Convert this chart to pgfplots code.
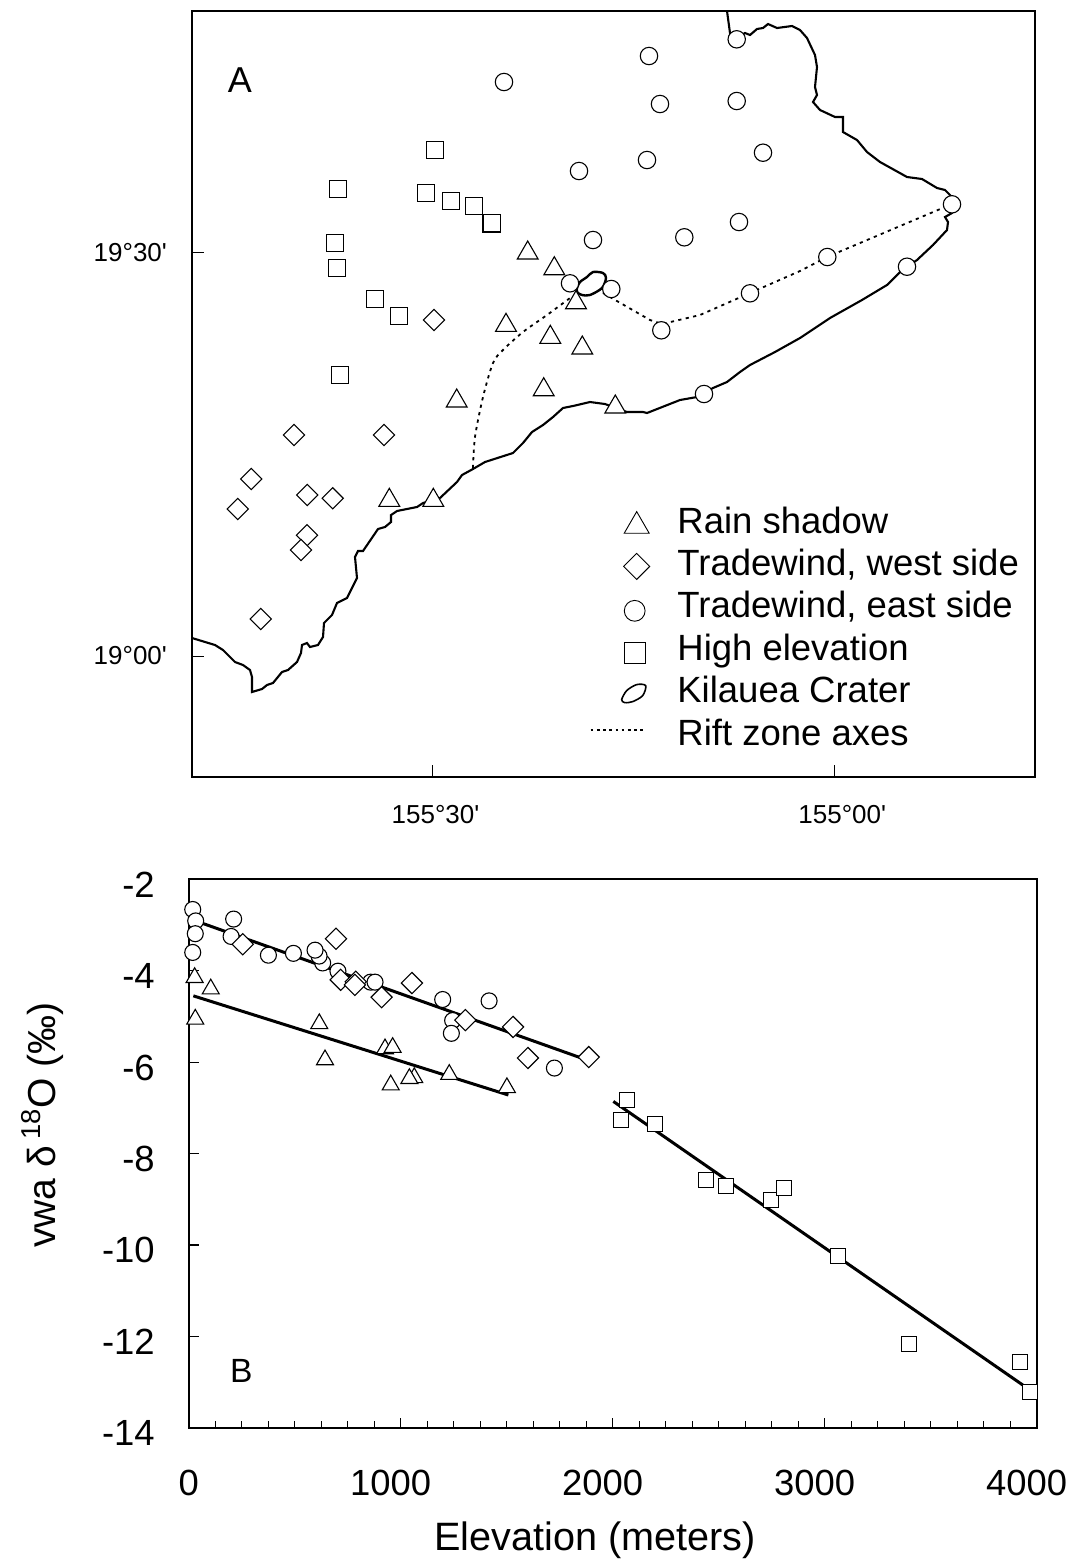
\documentclass[border=0pt]{standalone}
\usepackage{fontspec}
\setmainfont{Liberation Sans}
\usepackage{pgfplots}
\pgfplotsset{compat=1.18}
\pgfplotsset{
  mt/.style={mark=triangle*,mark size=#1,mark options={fill=white,draw=black,line width=0.55pt}},
  md/.style={mark=square*,mark size=#1,mark options={rotate=45,fill=white,draw=black,line width=0.55pt}},
  mc/.style={mark=*,mark size=#1,mark options={fill=white,draw=black,line width=0.55pt}},
  ms/.style={mark=square*,mark size=#1,mark options={fill=white,draw=black,line width=0.55pt}},
}
\begin{document}
\begin{tikzpicture}
\path[use as bounding box] (0,0) rectangle (536.5pt,-780pt);
% ---------- Map (A): coordinates are picture positions; ticks carry the real graticule
\begin{axis}[
  at={(96pt,-388.35pt)},anchor=south west,
  scale only axis,width=421.5pt,height=383pt,
  xmin=192,xmax=1035,ymin=-776.7,ymax=-10.7,
  clip=false,
  axis line style={line width=1pt},
  xtick={432.5,834.3},xticklabels={{\hspace*{3pt}155°30\textquotesingle},{\hspace*{8pt}\raisebox{2pt}{155°00\textquotesingle}}},
  ytick={-252.7,-656},yticklabels={19°30\textquotesingle,19°00\textquotesingle},
  tick align=inside,tick pos=left,
  major tick length=6pt,
  tick style={line width=0.5pt,black},
  tick label style={font=\fontsize{13}{15}\selectfont},
  xticklabel style={yshift=-11pt},
  yticklabel style={xshift=-9pt},
  legend style={at={(axis cs:589.5,-507)},anchor=north west,draw=none,fill=none,inner sep=0pt,outer sep=0pt,
    font=\fontsize{18.25}{20}\selectfont,row sep=4.2pt,
    nodes={text height=13pt,text depth=4pt,inner sep=0pt},
    /tikz/every even column/.append style={column sep=0pt}},
  legend cell align=left,
]
% coast
\addplot[black,line width=1.05pt,forget plot] coordinates {
(192,-638)(215,-645)(223,-650)(235,-662)(243,-665)(250,-670)(252,-677)(252,-692)(262,-689)(267,-685)(273,-683)(282,-672)(288,-670)(297,-662)(301,-653)(302,-645)(307,-643)(310,-647)(318,-645)(323,-637)(324,-623)(332,-615)(337,-603)(347,-598)(357,-578)(355,-557)(358,-551)(363,-551)(378,-529)(385,-527)(391,-522)(391,-515)(397,-511)(417,-507)(423,-503)(440,-498)(457,-482)(462,-475)(473,-469)(485,-462)(513,-453)(523,-443)(532,-432)(543,-425)(553,-417)(563,-408)(573,-406)(590,-402)(605,-404)(627,-412)(643,-412)(647,-413)(680,-400)(697,-397)(713,-388)(727,-382)(740,-372)(750,-365)(775,-352)(800,-338)(830,-318)(862,-300)(887,-285)(900,-272)(917,-260)(933,-245)(947,-230)(948,-222)(945,-217)(952,-213)(952,-197)(945,-190)(937,-188)(922,-179)(907,-177)(880,-162)(867,-152)(857,-140)(843,-132)(843,-117)(835,-117)(820,-110)(813,-102)(817,-95)(815,-87)(817,-67)(815,-55)(807,-38)(800,-30)(792,-26)(777,-28)(768,-24)(763,-28)(757,-29)(750,-35)(745,-33)(737,-38)(730,-33)(727,-11)};
% rift zones
\addplot[black,line width=0.9pt,dash pattern=on 1.6pt off 2.2pt,forget plot,smooth] coordinates {
(473,-468)(475,-437)(483,-397)(493,-363)(503,-350)(523,-332)(547,-315)(570,-298)};
\addplot[black,line width=0.9pt,dash pattern=on 1.6pt off 2.2pt,forget plot] coordinates {
(603,-293)(650,-320)(662,-324)(700,-315)(750,-293)(800,-271)(827,-257)(952,-204)};
% rain shadow
\addplot[only marks,mt=6pt,
  legend image code/.code={\path (0,0) (42.75pt,0);\draw[mark=triangle*,mark size=7.2pt,mark options={fill=white,draw=black,line width=0.45pt}] plot coordinates {(23pt,-1pt)};}]
 coordinates {(527.7,-253)(554.3,-268.7)(576,-302.7)(506,-325.3)(550.3,-337.3)(582.3,-348)(543.7,-389.7)(456.7,-401)(615.3,-407)(389.3,-500.3)(433.3,-500.3)};
\addlegendentry{Rain shadow}
\addplot[only marks,md=5.3pt/1.414,
  legend image code/.code={\path (0,0) (42.75pt,0);\draw[mark=square*,mark size=4.6pt,mark options={rotate=45,fill=white,draw=black,line width=0.45pt}] plot coordinates {(23pt,0pt)};}]
 coordinates {(251.3,-479)(237.7,-509)(307.3,-495)(332.7,-498.3)(307,-535.3)(301,-550)(260.7,-619)(434,-320)(294,-435)(384,-435)};
\addlegendentry{Tradewind, west side}
\addplot[only marks,mc=4.35pt,
  legend image code/.code={\path (0,0) (42.75pt,0);\draw[mark=*,mark size=5.2pt,mark options={fill=white,draw=black,line width=0.45pt}] plot coordinates {(22pt,-1pt)};}]
 coordinates {(504,-82)(649,-56)(736.7,-39.3)(660,-104)(736.7,-101)(647,-160)(579,-171)(763,-152.7)(739,-222)(684.3,-237.3)(593,-240)(570,-283.3)(611.3,-289)(661.3,-330.3)(750,-293.3)(827.3,-257)(907,-266.7)(952,-204.3)(704,-394)};
\addlegendentry{Tradewind, east side}
\addplot[only marks,ms=4.35pt,
  legend image code/.code={\path (0,0) (42.75pt,0);\draw[mark=square*,mark size=5.2pt,mark options={fill=white,draw=black,line width=0.45pt}] plot coordinates {(22pt,-1pt)};}]
 coordinates {(435,-150)(338,-189)(426,-193)(451,-201)(474,-206)(491.7,-223.3)(335,-243)(337,-268)(375,-299)(399,-316)(340,-375)};
\addlegendentry{High elevation}
% crater
\addplot[black,line width=1.2pt,smooth,
  legend image code/.code={\path (0,0) (42.75pt,0);\draw[black,line width=0.8pt] plot[smooth cycle] coordinates {(15.5pt,-3pt)(18pt,1.5pt)(23pt,4.5pt)(27.5pt,4pt)(26pt,-1pt)(21pt,-4pt)(17pt,-4.5pt)};}]
 coordinates {(577,-288)(580,-282)(587,-277)(593,-272)(603,-273)(606,-278)(602,-288)(590,-295)(582,-295)(577,-292)(577,-288)};
\addlegendentry{Kilauea Crater}
\addlegendimage{legend image code/.code={\path (0,0) (42.75pt,0);\draw[black,line width=0.7pt,dash pattern=on 1.3pt off 1.8pt] (0,3pt)--(26pt,3pt);}}
\addlegendentry{Rift zone axes}
\node[font=\fontsize{18}{20}\selectfont] at (axis cs:240,-80) {A};
\end{axis}
% ---------- Panel B
\begin{axis}[
  at={(94.35pt,-713.85pt)},anchor=south west,
  scale only axis,width=424pt,height=274.2pt,
  xmin=0,xmax=4000,ymin=-14,ymax=-2,
  clip=false,
  axis line style={line width=0.9pt},
  xtick={0,1000,2000,3000,4000},
  xticklabels={0,1000\hspace*{10pt},2000\hspace*{10pt},3000\hspace*{10pt},4000\hspace*{10pt}},
  minor x tick num=7,
  ytick={-14,-12,-10,-8,-6,-4,-2},
  yticklabels={-14,-12,-10,-8,-6,-4,-2},
  tick align=inside,tick pos=left,
  major tick length=5pt,minor tick length=3.5pt,
  tick style={line width=0.6pt,black},
  tick label style={font=\fontsize{18.2}{20}\selectfont},
  xticklabel style={yshift=-17.5pt},
  yticklabel style={xshift=-13.5pt,yshift=-2.75pt},
  xlabel={Elevation (meters)},
  ylabel={vwa δ\,\textsuperscript{18}O (‰)},
  x label style={at={(axis description cs:0.479,-0.206)},anchor=center,font=\fontsize{19.8}{22}\selectfont},
  y label style={at={(axis description cs:-0.172,0.552)},anchor=center,font=\fontsize{19.5}{22}\selectfont},
]
\addplot[black,line width=1.5pt,forget plot] coordinates {(33,-2.91)(1846,-5.9)};
\addplot[black,line width=1.5pt,forget plot] coordinates {(22,-4.55)(1508,-6.72)};
\addplot[black,line width=1.5pt,forget plot] coordinates {(2003,-6.86)(3970,-13.18)};
\addplot[only marks,mc=4pt] coordinates {(19,-2.66)(33,-2.91)(31,-3.19)(19,-3.6)(212,-2.87)(200,-3.25)(376,-3.66)(494,-3.62)(632,-3.83)(615,-3.68)(596,-3.55)(704,-4.01)(858,-4.25)(879,-4.25)(1198,-4.63)(1417,-4.66)(1245,-5.09)(1239,-5.37)(1725,-6.13)};
\addplot[only marks,md=5.3pt/1.414] coordinates {(255,-3.42)(695,-3.3)(717,-4.2)(788,-4.24)(784,-4.31)(910,-4.58)(1053,-4.27)(1305,-5.08)(1530,-5.23)(1600,-5.91)(1887,-5.89)};
\addplot[only marks,mt=4.9pt] coordinates {(28,-4.15)(104,-4.4)(31,-5.06)(616,-5.16)(643,-5.95)(926,-5.71)(962,-5.68)(953,-6.5)(1064,-6.34)(1041,-6.36)(1229,-6.27)(1501,-6.56)};
\addplot[only marks,ms=3.75pt] coordinates {(2067,-6.83)(2038,-7.26)(2200,-7.36)(2440,-8.57)(2533,-8.71)(2747,-9.02)(2808,-8.76)(3064,-10.24)(3398,-12.17)(3923,-12.57)(3970,-13.22)};
\node[font=\fontsize{16.8}{20}\selectfont] at (axis cs:248,-12.76) {B};
\end{axis}
\end{tikzpicture}
\end{document}
